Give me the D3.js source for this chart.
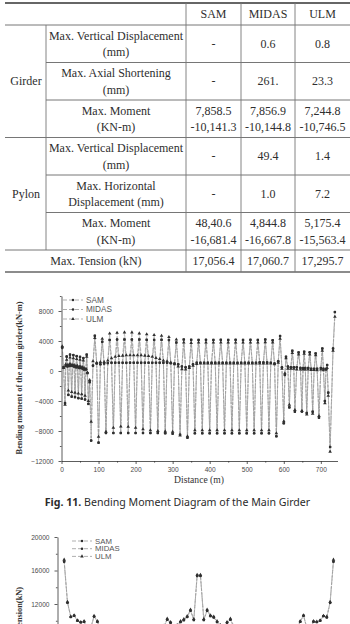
<!DOCTYPE html>
<html>
<head>
<meta charset="utf-8">
<script src="https://cdn.jsdelivr.net/npm/d3@7"></script>
<style>
  body { margin: 0; background: #fff; }
  svg { display: block; }
</style>
</head>
<body>
<svg id="page" width="350" height="624"></svg>
<script>
// Table values

const tableCols = ["SAM", "MIDAS", "ULM"];
const girderItems = [["Max. Vertical Displacement", "(mm)"], ["Max. Axial Shortening", "(mm)"], ["Max. Moment", "(KN-m)"]];
const girderVals = [
    [["-"], ["0.6"], ["0.8"]],
    [["-"], ["261."], ["23.3"]],
    [["7,858.5", "-10,141.3"], ["7,856.9", "-10,144.8"], ["7,244.8", "-10,746.5"]]
];
const pylonItems = [["Max. Vertical Displacement", "(mm)"], ["Max. Horizontal", "Displacement (mm)"], ["Max. Moment", "(KN-m)"]];
const pylonVals = [
    [["-"], ["49.4"], ["1.4"]],
    [["-"], ["1.0"], ["7.2"]],
    [["48,40.6", "-16,681.4"], ["4,844.8", "-16,667.8"], ["5,175.4", "-15,563.4"]]
];
const tensionLabel = "Max. Tension (kN)";
const tensionVals = ["17,056.4", "17,060.7", "17,295.7"];

// Fig. 11 - bending moment of the main girder (distance in m, moment in kN-m)

const girderDist = [
    2, 5.5, 9.5, 11.5, 14, 16, 18.5, 21, 23, 25, 27.5, 30, 32, 34, 36.5, 39,
    41, 43, 45.5, 48, 50, 52, 54.5, 57, 59, 61, 63.5, 66, 68, 70, 72.5, 76,
    80, 85, 90, 95, 100, 105, 110, 115, 120, 125, 130, 135, 140, 145, 150, 155,
    160, 165, 170, 175, 180, 185, 190, 195, 200, 205, 210, 215, 220, 225, 230, 235,
    240, 245, 250, 255, 260, 265, 270, 275, 280, 285, 290, 295, 300, 305, 310, 315,
    320, 325, 330, 335, 340, 345, 350, 355, 360, 365, 370, 375, 380, 385, 390, 395,
    400, 405, 410, 415, 420, 425, 430, 435, 440, 445, 450, 455, 460, 465, 470, 475,
    480, 485, 490, 495, 500, 505, 510, 515, 520, 525, 530, 535, 540, 545, 550, 555,
    560, 565, 570, 575, 580, 585, 590, 595, 600,
    603, 606, 611, 615, 619, 623, 627, 630, 635, 640, 645, 649, 652, 655, 658, 662,
    666, 670, 674, 678, 682, 686, 690, 695, 700, 704, 707, 711, 714, 717, 720, 725,
    733, 738
];

const momentSAM = [
    3100, 500, -4300, 700, 1900, 600, -3200, 700, 2200, 700, -3400, 700, 2100, 600, -3500, 500,
    2000, 500, -3600, 400, 1900, 400, -3700, 300, 1700, 200, -3800, 200, 2200, -300, -4400, -1500,
    -9290, 700, 4700, 1000,   -9560, 900, 3900, 1000,   -8270, 1050, 4150, 1100,  -8270, 1100, 4200, 1100,
    -8270, 1100, 4200, 1100,  -8270, 1100, 4200, 1100,  -8270, 1100, 4200, 1100,  -8270, 1100, 4150, 1100,
    -8270, 1100, 4150, 1100,  -8270, 1100, 4150, 1100,  -8300, 1100, 4130, 1050,  -8350, 1000, 3800, 900,
    -8500, 600, 4200, 500,    -8900, 600, 4150, 900,    -8300, 1100, 4150, 1100,  -8300, 1100, 4150, 1100,
    -8300, 1100, 4150, 1100,  -8300, 1100, 4150, 1100,  -8300, 1100, 4150, 1100,  -8300, 1100, 4150, 1100,
    -8300, 1100, 4150, 1100,  -8300, 1100, 4150, 1100,  -8300, 1100, 4150, 1150,  -8300, 1150, 4200, 1150,
    -8300, 1100, 4100, 1000,  -8700, 1300, 4670, 500,   -6970,
    -530, 1900, 600, -4840, 500, 2700, 500, -5420, 500, 2490, 400, -5420, 400, 2570, 400, -5600,
    400, 2490, 300, -5420, 300, 2350, 300, -6220, 400, 3000, 300, -4000, 200, 800, -2900, -10140,
    3000, 7860
];

const momentMIDAS = [
    3150, 520, -4280, 680, 1950, 620, -3180, 680, 2180, 720, -3420, 690, 2120, 610, -3480, 510,
    1980, 490, -3620, 410, 1880, 390, -3680, 310, 1720, 210, -3790, 190, 2180, -280, -4380, -1480,
    -9280, 720, 4690, 1010,   -9550, 910, 3910, 1010,   -8260, 1060, 4140, 1090,  -8280, 1090, 4210, 1110,
    -8260, 1110, 4190, 1090,  -8280, 1090, 4210, 1110,  -8260, 1110, 4190, 1090,  -8280, 1090, 4160, 1110,
    -8260, 1110, 4140, 1090,  -8280, 1090, 4160, 1110,  -8290, 1110, 4120, 1040,  -8360, 1010, 3810, 910,
    -8490, 610, 4190, 510,    -8890, 590, 4160, 890,    -8310, 1090, 4140, 1110,  -8290, 1110, 4160, 1090,
    -8310, 1090, 4140, 1110,  -8290, 1110, 4160, 1090,  -8310, 1090, 4140, 1110,  -8290, 1110, 4160, 1090,
    -8310, 1090, 4140, 1110,  -8290, 1110, 4160, 1090,  -8310, 1090, 4140, 1160,  -8290, 1140, 4210, 1140,
    -8310, 1110, 4090, 1010,  -8690, 1290, 4680, 510,   -6960,
    -520, 1910, 590, -4850, 510, 2690, 490, -5430, 510, 2480, 410, -5410, 390, 2580, 410, -5610,
    390, 2500, 310, -5430, 290, 2340, 310, -6230, 390, 3010, 310, -4010, 210, 790, -2880, -10145,
    2990, 7857
];

const momentULM = [
    3300, 400, -4500, 900, 1500, 800, -2600, 900, 1800, 900, -2800, 800, 1700, 800, -2900, 700,
    1600, 700, -3000, 600, 1500, 600, -3100, 500, 1400, 400, -3300, 300, 1900, -200, -4000, -1200,
    -6760, 1300, 4400, 1100,  -8760, 1200, 4300, 1200,  -8090, 1400, 5000, 1700,  -7560, 1900, 5100, 2000,
    -7400, 2050, 5150, 2100,  -7430, 2100, 5150, 2100,  -7560, 2100, 5020, 2100,  -7760, 2050, 4900, 2000,
    -7900, 1900, 4800, 1750,  -8000, 1600, 4700, 1400,  -8050, 1300, 4530, 1150,  -8100, 900, 4200, 600,
    -8600, 250, 3800, 200,    -8700, 400, 3750, 700,    -7900, 950, 3800, 1000,   -7900, 1000, 3800, 1000,
    -7900, 1000, 3800, 1000,  -7900, 1000, 3800, 1000,  -7900, 1000, 3800, 1000,  -7900, 1000, 3800, 1000,
    -7900, 1000, 3800, 1000,  -7900, 1000, 3800, 1000,  -7900, 1000, 3800, 1000,  -7900, 1000, 3850, 1000,
    -7900, 1000, 3800, 900,   -8300, 1100, 4300, 300,   -6700,
    -300, 1700, 300, -4500, 300, 2400, 300, -5200, 200, 2200, 200, -5300, 200, 2300, 200, -5800,
    200, 2200, 150, -5700, 150, 2100, 100, -6000, 200, 2700, 100, -4300, 300, 400, -3300, -10750,
    2700, 7240
];

const distTicks = [0, 100, 200, 300, 400, 500, 600, 700];
const distMinor = [50, 150, 250, 350, 450, 550, 650];
const momentTicks = [-12000, -8000, -4000, 0, 4000, 8000];
const momentMinor = [-10000, -6000, -2000, 2000, 6000, 10000];

// Second figure - cable tension (kN) by cable number, only its top part is on the page

const cableNo = d3.range(1, 83);
const tensionSAM = [
    17056, 12150, 10450, 10600, 10000, 9800, 9880, 8900, 9100, 10500, 9880, 8700, 8400, 8600, 8300, 8500,
    8200, 8400, 8100, 8300, 8200, 8400, 8100, 8300, 8200, 8400, 8300, 8600, 8800, 9000, 9300, 10120,
    9760, 9100, 9400, 9840, 10080, 10450, 11200, 10080, 15350, 15350, 10080, 11200, 10550, 10400, 9840, 9400,
    9100, 9780, 10120, 9300, 9000, 8800, 8600, 8300, 8400, 8200, 8400, 8100, 8300, 8200, 8400, 8100,
    8300, 8500, 8300, 8600, 8400, 8700, 9000, 9880, 10600, 9100, 8900, 9900, 9840, 10000, 10550, 10400,
    12150, 17056
];
const tensionMIDAS = [
    17061, 12160, 10440, 10610, 9990, 9810, 9870, 8910, 9090, 10510, 9870, 8710, 8390, 8610, 8290, 8510,
    8190, 8410, 8090, 8310, 8190, 8410, 8090, 8310, 8190, 8410, 8290, 8610, 8790, 9010, 9290, 10130,
    9750, 9110, 9390, 9850, 10070, 10460, 11190, 10090, 15340, 15340, 10090, 11190, 10560, 10390, 9850, 9390,
    9110, 9770, 10130, 9290, 9010, 8790, 8610, 8290, 8410, 8190, 8410, 8090, 8310, 8190, 8410, 8090,
    8310, 8490, 8310, 8590, 8410, 8690, 9010, 9870, 10610, 9090, 8910, 9890, 9850, 9990, 10560, 10390,
    12160, 17061
];
const tensionULM = [
    17296, 12250, 10500, 10650, 10050, 9850, 9950, 9000, 9200, 10600, 9950, 8800, 8500, 8700, 8400, 8600,
    8300, 8500, 8200, 8400, 8300, 8500, 8200, 8400, 8300, 8500, 8400, 8700, 8900, 9100, 9400, 10250,
    9850, 9200, 9500, 9950, 10200, 10550, 11350, 10200, 15500, 15500, 10200, 11350, 10650, 10500, 9950, 9500,
    9200, 9850, 10250, 9400, 9100, 8900, 8700, 8400, 8500, 8300, 8500, 8200, 8400, 8300, 8500, 8200,
    8400, 8600, 8400, 8700, 8500, 8800, 9100, 9950, 10650, 9200, 9000, 9950, 9900, 10050, 10600, 10500,
    12250, 17296
];
const tensionTicks = [12000, 16000, 20000];
const tensionMinor = [10000, 14000, 18000];

const legendNames = ["SAM", "MIDAS", "ULM"];

// Shared styles

const serif = "'Liberation Serif', 'Times New Roman', serif";
const sans = "'Liberation Sans', Arial, sans-serif";
const symbols = [d3.symbolSquare, d3.symbolCircle, d3.symbolTriangle];
const symSizes = [5, 5, 5.5];
const dashes = ["3,1", "2.5,1", "4,1.5"];

const svg = d3.select("#page");

// ---------------------------------------------------------------- Table

const tbl = svg.append("g").attr("class", "table");
const colEdges = [6, 46, 186, 241, 295, 350];
const colMid = [(colEdges[2] + colEdges[3]) / 2, (colEdges[3] + colEdges[4]) / 2, (colEdges[4] + colEdges[5]) / 2];
const headTop = 3, headBot = 25, rowH = 37.5;
const lineGap = 16.7;

function hLine(x1, x2, y, w) {
    tbl.append("line").attr("x1", x1).attr("x2", x2).attr("y1", y).attr("y2", y)
        .attr("stroke", "#666").attr("stroke-width", w || 0.9);
}
function vLine(x, y1, y2) {
    tbl.append("line").attr("x1", x).attr("x2", x).attr("y1", y1).attr("y2", y2)
        .attr("stroke", "#777").attr("stroke-width", 0.9);
}
function cellText(lines, cx, top, h) {
    const mid = top + h / 2;
    lines.forEach((t, i) => {
        const off = (i - (lines.length - 1) / 2) * lineGap;
        tbl.append("text")
            .attr("x", cx).attr("y", mid + off + 4.2)
            .attr("text-anchor", "middle")
            .style("font-family", serif).style("font-size", "12px").style("fill", "#2e2e2e")
            .text(t);
    });
}

// header
tableCols.forEach((c, i) => cellText([c], colMid[i], headTop, headBot - headTop));

// group blocks (Girder, Pylon)
const groups = [
    {name: "Girder", items: girderItems, vals: girderVals, top: headBot},
    {name: "Pylon", items: pylonItems, vals: pylonVals, top: headBot + 3 * rowH}
];
groups.forEach(grp => {
    cellText([grp.name], (colEdges[0] + colEdges[1]) / 2, grp.top, 3 * rowH);
    grp.items.forEach((item, r) => {
        const top = grp.top + r * rowH;
        cellText(item, (colEdges[1] + colEdges[2]) / 2, top, rowH);
        grp.vals[r].forEach((v, c) => cellText(v, colMid[c], top, rowH));
        if (r > 0) hLine(colEdges[1], colEdges[5], top);
    });
    hLine(colEdges[0] - 1, colEdges[5], grp.top);
});

// tension row
const tenTop = headBot + 6 * rowH, tenBot = tenTop + 22;
hLine(colEdges[0] - 1, colEdges[5], tenTop);
cellText([tensionLabel], (colEdges[0] + colEdges[2]) / 2, tenTop, tenBot - tenTop);
tensionVals.forEach((v, c) => cellText([v], colMid[c], tenTop, tenBot - tenTop));

// rules
hLine(colEdges[0] - 1, colEdges[5], headTop, 2);
hLine(colEdges[0] - 1, colEdges[5], tenBot, 1.6);
vLine(colEdges[1], headBot, tenTop);
[2, 3, 4].forEach(k => vLine(colEdges[k], headTop, tenBot));

// ---------------------------------------------------------------- Axis helper

function drawAxes(g, x, y, opt) {
    const xAxis = g.append("g").attr("transform", `translate(0,${opt.y0})`)
        .call(d3.axisBottom(x).tickValues(opt.xTicks).tickSize(3).tickPadding(3).tickSizeOuter(0));
    g.append("g").attr("transform", `translate(0,${opt.y0})`)
        .call(d3.axisBottom(x).tickValues(opt.xMinor).tickSize(1.6).tickFormat(""))
        .select(".domain").remove();
    const yAxis = g.append("g").attr("transform", `translate(${opt.x0},0)`)
        .call(d3.axisLeft(y).tickValues(opt.yTicks).tickSize(3).tickPadding(5).tickSizeOuter(0).tickFormat(d3.format("d")));
    g.append("g").attr("transform", `translate(${opt.x0},0)`)
        .call(d3.axisLeft(y).tickValues(opt.yMinor).tickSize(1.6).tickFormat(""))
        .select(".domain").remove();
    g.selectAll(".domain, .tick line").attr("stroke", "#333").attr("stroke-width", 0.8);
    [xAxis, yAxis].forEach(a => a.selectAll("text")
        .style("font-family", sans).style("font-size", opt.tickFont).style("fill", "#4a4a4a"));
}

function drawSeries(g, x, y, xs, list) {
    list.forEach((vals, k) => {
        const line = d3.line().x((d, i) => x(xs[i])).y(d => y(d));
        g.append("path").datum(vals)
            .attr("d", line)
            .attr("fill", "none")
            .attr("stroke", "#999")
            .attr("stroke-width", 0.6)
            .attr("stroke-dasharray", dashes[k]);
    });
    list.forEach((vals, k) => {
        g.append("g").selectAll("path")
            .data(vals)
            .enter()
            .append("path")
                .attr("transform", (d, i) => `translate(${x(xs[i])},${y(d)})`)
                .attr("d", d3.symbol().type(symbols[k]).size(symSizes[k]))
                .attr("fill", "#2f2f2f");
    });
}

function drawLegend(g, lx, ly, step, font) {
    legendNames.forEach((name, k) => {
        const yy = ly + k * step;
        g.append("line").attr("x1", lx).attr("x2", lx + 20).attr("y1", yy).attr("y2", yy)
            .attr("stroke", "#8c8c8c").attr("stroke-width", 0.7).attr("stroke-dasharray", "4,2");
        g.append("path").attr("transform", `translate(${lx + 10},${yy})`)
            .attr("d", d3.symbol().type(symbols[k]).size(symSizes[k])).attr("fill", "#2f2f2f");
        g.append("text").attr("x", lx + 23).attr("y", yy).attr("dy", "0.35em")
            .style("font-family", sans).style("font-size", font).style("fill", "#555")
            .text(name);
    });
}

// ---------------------------------------------------------------- Fig. 11

const fig1 = svg.append("g");
const x1 = d3.scaleLinear().domain([0, 745]).range([61.5, 337.5]);
const y1 = d3.scaleLinear().domain([-12000, 10000]).range([461, 296]);

drawSeries(fig1, x1, y1, girderDist, [momentSAM, momentMIDAS, momentULM]);
drawAxes(fig1, x1, y1, {y0: 461, x0: 61.5, xTicks: distTicks, xMinor: distMinor,
    yTicks: momentTicks, yMinor: momentMinor, tickFont: "6.6px"});
drawLegend(fig1, 63, 300, 9.5, "8.2px");

fig1.append("text")
    .attr("transform", "translate(22,378) rotate(-90)")
    .attr("text-anchor", "middle")
    .style("font-family", serif).style("font-size", "8.3px").style("font-weight", "bold").style("fill", "#333")
    .text("Bending moment of the main girder(kN-m)");
fig1.append("text")
    .attr("x", 199).attr("y", 483)
    .attr("text-anchor", "middle")
    .style("font-family", serif).style("font-size", "9.6px").style("fill", "#333")
    .text("Distance (m)");

const cap = svg.append("text")
    .attr("x", 177.5).attr("y", 506)
    .attr("text-anchor", "middle")
    .style("font-family", "'Noto Sans', sans-serif").style("font-size", "10.6px").style("fill", "#2b2b2b");
cap.append("tspan").style("font-weight", "bold").text("Fig. 11.");
cap.append("tspan").text(" Bending Moment Diagram of the Main Girder");

// ---------------------------------------------------------------- Tension figure (cut by the page edge)

const fig2 = svg.append("g");
const x2 = d3.scaleLinear().domain([-1, 84]).range([57.5, 340.1]);
const y2 = d3.scaleLinear().domain([0, 20000]).range([704.5, 537]);

drawSeries(fig2, x2, y2, cableNo, [tensionSAM, tensionMIDAS, tensionULM]);
drawAxes(fig2, x2, y2, {y0: 704.5, x0: 57.5, xTicks: [], xMinor: [],
    yTicks: tensionTicks, yMinor: tensionMinor, tickFont: "6.6px"});
drawLegend(fig2, 72, 541, 7.7, "7.8px");

fig2.append("text")
    .attr("transform", "translate(22,587) rotate(-90)")
    .attr("text-anchor", "end")
    .style("font-family", serif).style("font-size", "8.3px").style("font-weight", "bold").style("fill", "#333")
    .text("Tension(kN)");
</script>
</body>
</html>
